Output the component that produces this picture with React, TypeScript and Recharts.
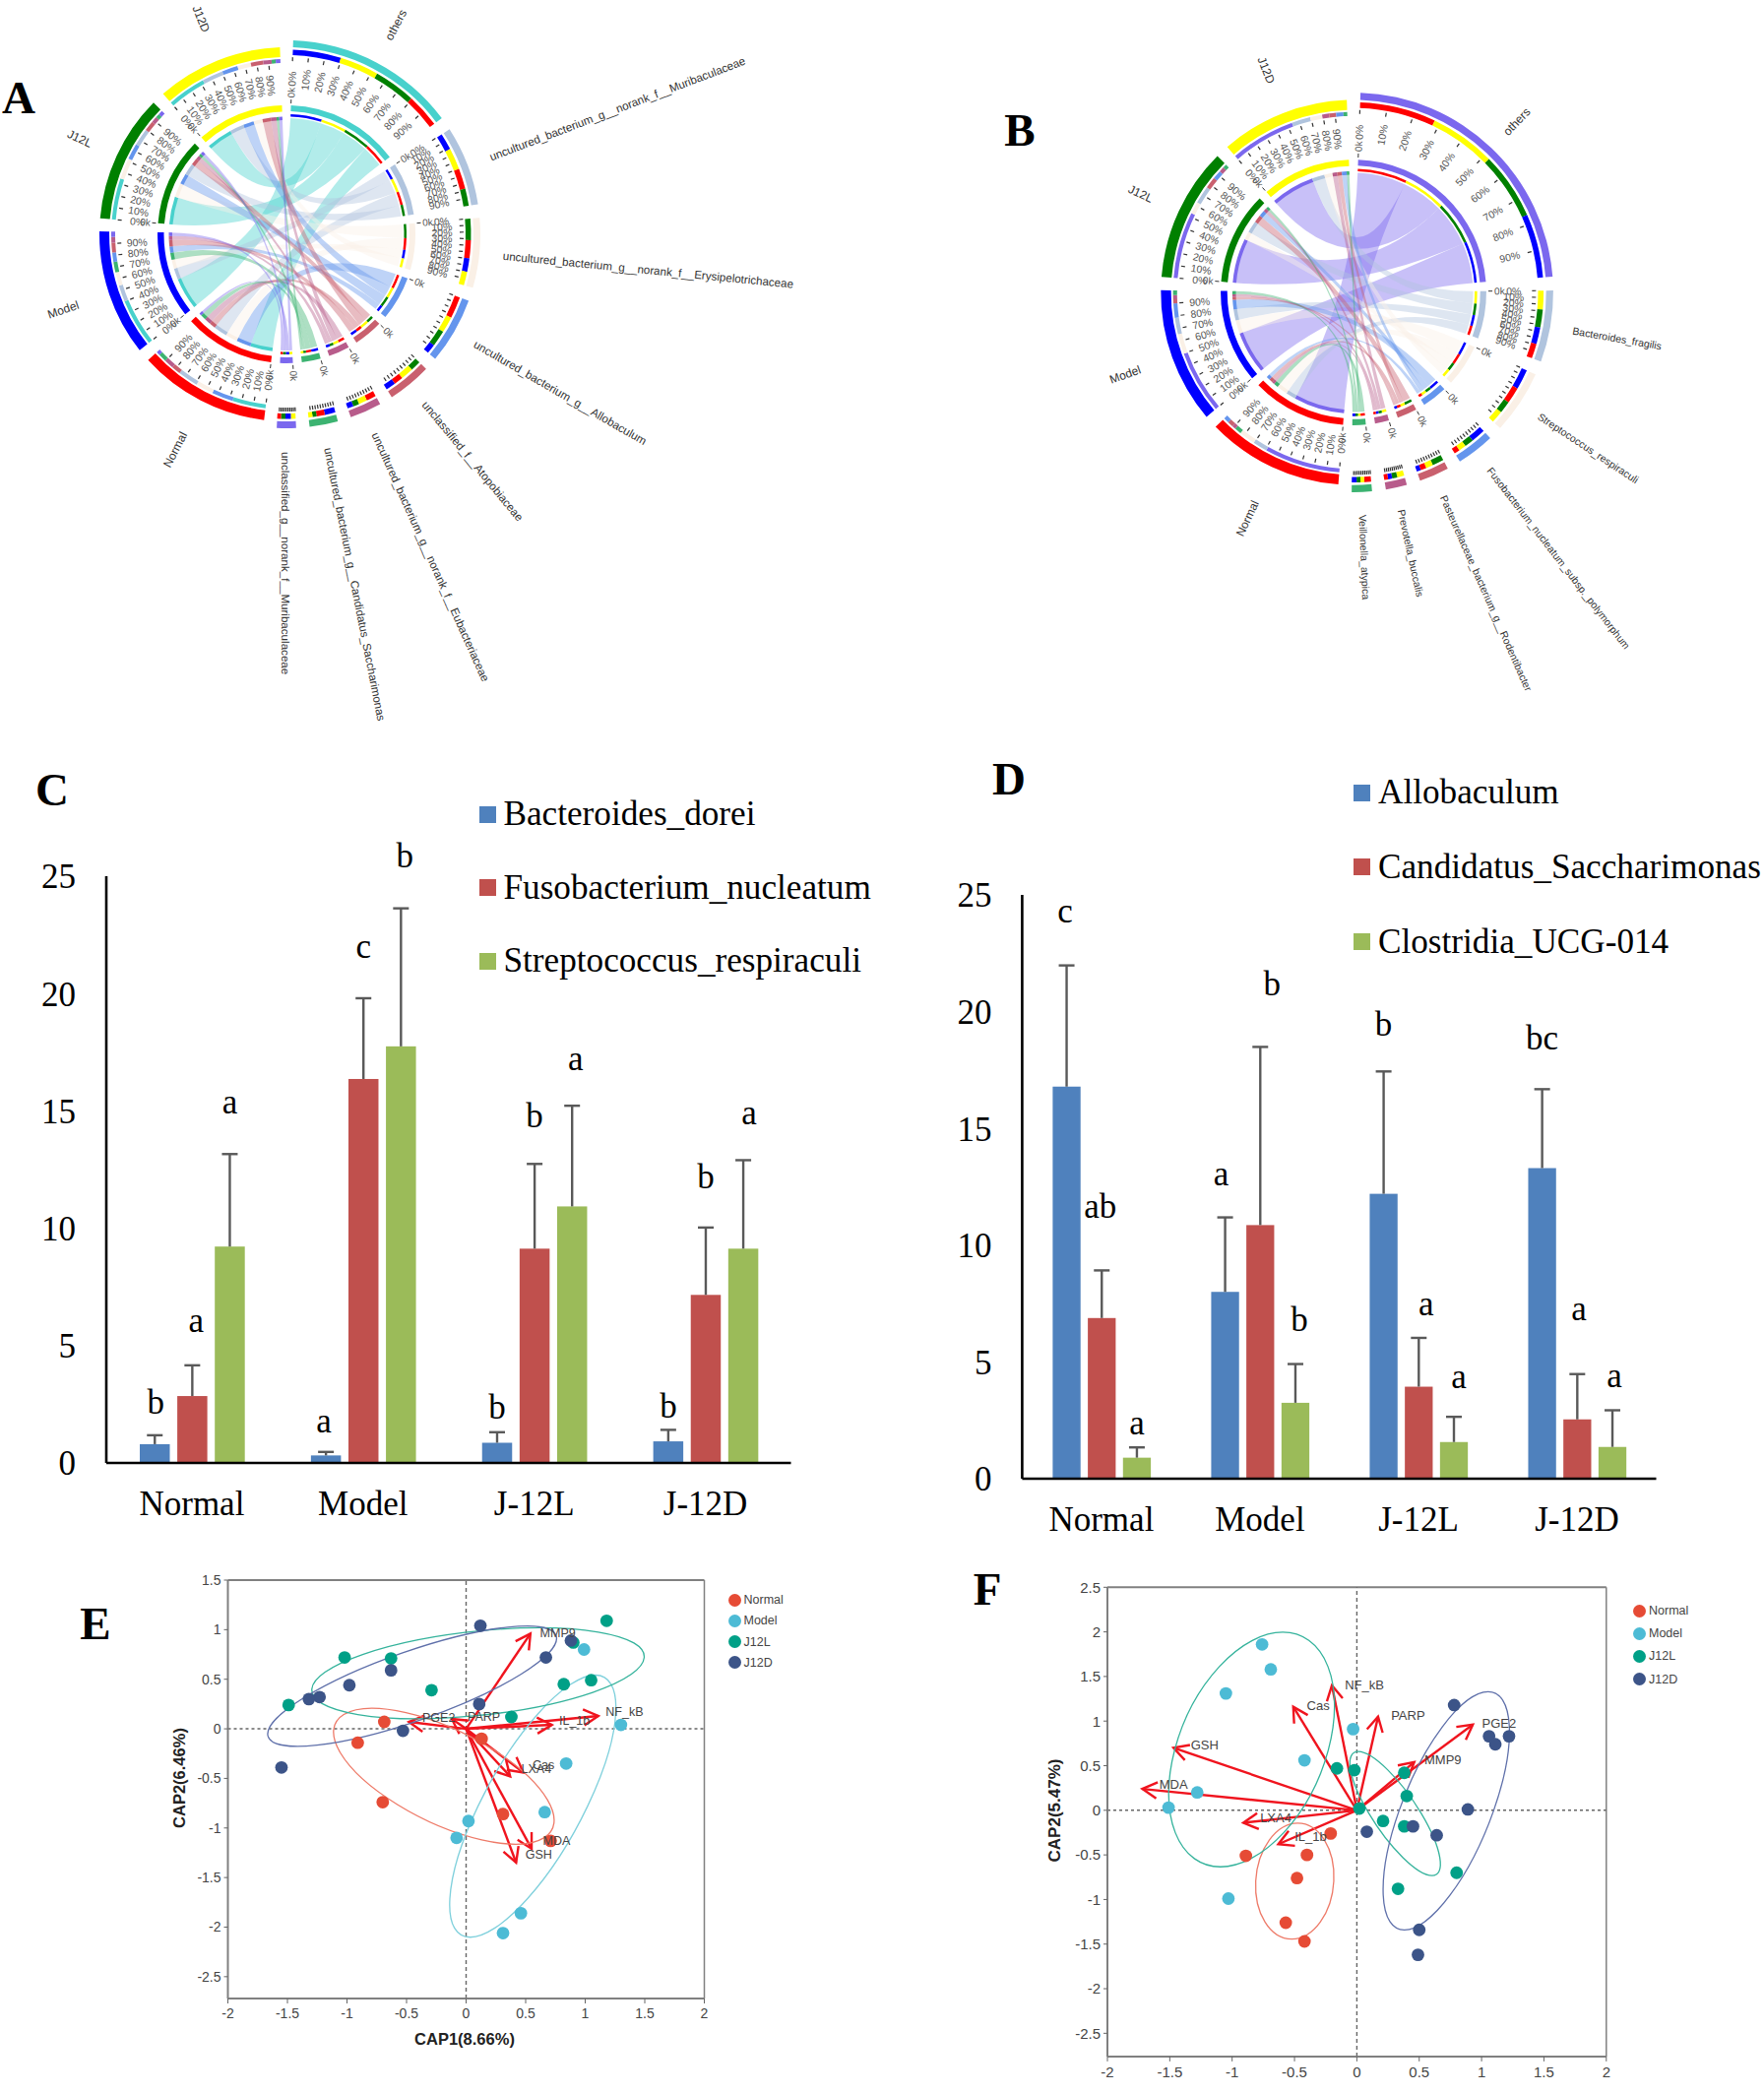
import { PieChart, Pie, BarChart, Bar, XAxis, YAxis, Legend, ScatterChart, Scatter, ReferenceLine } from 'recharts'

const SERIF = '"Liberation Serif", "Times New Roman", serif'
const SANS = '"Liberation Sans", Arial, sans-serif'

// ── Chord panels ───────────────────────────────────────────────
const sampleNames = ['Normal', 'Model', 'J12L', 'J12D']
const sampleColors = ['#ff0000', '#0000ff', '#008000', '#ffff00']

const taxaA = [
  'others',
  'uncultured_bacterium_g__norank_f__Muribaculaceae',
  'uncultured_bacterium_g__norank_f__Erysipelotrichaceae',
  'uncultured_bacterium_g__Allobaculum',
  'unclassified_f__Atopobiaceae',
  'uncultured_bacterium_g__norank_f__Eubacteriaceae',
  'uncultured_bacterium_g__Candidatus_Saccharimonas',
  'unclassified_g__norank_f__Muribaculaceae',
]
const taxaColorsA = ['#48d1cc', '#b0c4de', '#faf0e6', '#6495ed', '#c9606e', '#b85c8b', '#3cb371', '#7b68ee']
// rows: taxa, columns: Normal, Model, J12L, J12D
const flowsA = [
  [10.7, 15.3, 13.3, 12.4],
  [6.5, 5.3, 5.5, 6.8],
  [5.7, 4.3, 6.8, 4.3],
  [6.9, 3.0, 5.1, 5.1],
  [2.9, 3.1, 3.3, 4.0],
  [3.1, 1.9, 1.9, 2.7],
  [2.6, 3.4, 1.3, 1.3],
  [1.2, 1.7, 1.4, 1.5],
]
const taxonOrderA = [[1, 3, 2, 0], [1, 3, 0, 2], [2, 0, 1, 3], [0, 3, 2, 1], [2, 3, 0, 1], [0, 3, 2, 1], [1, 0, 2, 3], [3, 1, 2, 0]]
const sampleOrderA = [[0, 3, 2, 1, 4, 5, 6, 7], [0, 1, 2, 6, 3, 4, 5, 7], [0, 2, 3, 1, 4, 5, 6, 7], [0, 1, 3, 2, 4, 5, 6, 7]]

const taxaB = [
  'others',
  'Bacteroides_fragilis',
  'Streptococcus_respiraculi',
  'Fusobacterium_nucleatum_subsp._polymorphum',
  'Pasteurellaceae_bacterium_g__Rodentibacter',
  'Prevotella_buccalis',
  'Veillonella_atypica',
]
const taxaColorsB = ['#7b68ee', '#b0c4de', '#faf0e6', '#6495ed', '#c9606e', '#b85c8b', '#3cb371']
const flowsB = [
  [23.9, 20.0, 21.0, 20.6],
  [4.6, 5.2, 5.6, 5.9],
  [5.1, 6.3, 3.8, 3.8],
  [1.7, 4.5, 2.8, 2.3],
  [1.8, 1.3, 3.6, 2.2],
  [1.2, 1.3, 1.6, 2.2],
  [2.1, 1.5, 1.2, 1.2],
]
const taxonOrderB = [[0, 3, 2, 1], [3, 2, 1, 0], [1, 0, 2, 3], [1, 2, 3, 0], [2, 3, 0, 1], [3, 2, 1, 0], [0, 3, 2, 1]]
const sampleOrderB = [[0, 1, 2, 6, 5, 4, 3], [0, 2, 1, 3, 4, 5, 6], [0, 2, 1, 4, 3, 5, 6], [0, 1, 2, 5, 4, 3, 6]]

const percentLabels = ['0%', '10%', '20%', '30%', '40%', '50%', '60%', '70%', '80%', '90%']
const sampleLabelRadius = [250, 243, 235, 239]
const GAP = 4

interface Piece { start: number; end: number; t: number; s: number }
interface Sector { name: string; start: number; end: number; color: string; isSample: boolean; pieces: Piece[] }

// taxaShare: part of the circle (without gaps) that goes to the taxa side
function layoutChord(flows: number[][], names: string[], colors: string[], taxonOrder: number[][], sampleOrder: number[][], startDeg: number, taxaShare: number) {
  const total = flows.flat().reduce((a, b) => a + b, 0)
  const free = 360 - GAP * (names.length + 4)
  const taxaUnit = (free * taxaShare) / total
  const sampleUnit = (free * (1 - taxaShare)) / total
  const sectors: Sector[] = []
  let a = startDeg
  flows.forEach((row, t) => {
    const start = a
    const pieces = taxonOrder[t].map((s) => {
      const p = { start: a, end: a + row[s] * taxaUnit, t, s }
      a = p.end
      return p
    })
    sectors.push({ name: names[t], start, end: a, color: colors[t], isSample: false, pieces })
    a += GAP
  })
  sampleNames.forEach((name, s) => {
    const start = a
    const pieces = sampleOrder[s].map((t) => {
      const p = { start: a, end: a + flows[t][s] * sampleUnit, t, s }
      a = p.end
      return p
    })
    sectors.push({ name, start, end: a, color: sampleColors[s], isSample: true, pieces })
    a += GAP
  })
  return sectors
}

function track(sectors: Sector[], samples: boolean, stacked: boolean, colors: string[]) {
  const out: { value: number; fill: string }[] = []
  sectors.forEach((sec) => {
    if (sec.isSample !== samples) out.push({ value: sec.end - sec.start, fill: 'none' })
    else if (!stacked) out.push({ value: sec.end - sec.start, fill: sec.color })
    else sec.pieces.forEach((p) => out.push({ value: p.end - p.start, fill: samples ? colors[p.t] : sampleColors[p.s] }))
    out.push({ value: GAP, fill: 'none' })
  })
  return out
}

function polar(cx: number, cy: number, r: number, deg: number) {
  const rad = (deg * Math.PI) / 180
  return [cx + r * Math.sin(rad), cy - r * Math.cos(rad)]
}

function Ribbons({ sectors, cx, cy, r, colors }: { sectors: Sector[]; cx: number; cy: number; r: number; colors: string[] }) {
  const taxa = sectors.filter((s) => !s.isSample)
  const samples = sectors.filter((s) => s.isSample)
  const paths: { d: string; fill: string }[] = []
  taxa.forEach((sec) => {
    sec.pieces.forEach((p) => {
      const q = samples[p.s].pieces.find((x) => x.t === p.t) as Piece
      const a0 = polar(cx, cy, r, p.start)
      const a1 = polar(cx, cy, r, p.end)
      const b0 = polar(cx, cy, r, q.start)
      const b1 = polar(cx, cy, r, q.end)
      paths.push({
        d: `M${a0} A${r} ${r} 0 0 1 ${a1} Q${cx} ${cy} ${b0} A${r} ${r} 0 0 1 ${b1} Q${cx} ${cy} ${a0} Z`,
        fill: colors[p.t],
      })
    })
  })
  return (
    <g>
      {paths.map((p, i) => (
        <path key={i} d={p.d} fill={p.fill} fillOpacity={0.42} stroke="none" />
      ))}
    </g>
  )
}

function SectorTexts({ sectors, cx, cy, k, labelled, labelR, fontSize }: { sectors: Sector[]; cx: number; cy: number; k: number; labelled: number; labelR: number; fontSize: number }) {
  const out: any[] = []
  let taxonIndex = 0
  sectors.forEach((sec, si) => {
    const span = sec.end - sec.start
    const mid = (sec.start + sec.end) / 2
    const outerR = sec.isSample ? 172 * k : 180 * k
    const showPct = sec.isSample || taxonIndex < labelled
    percentLabels.forEach((lab, i) => {
      const ang = sec.start + (span * i) / 10
      const [x1, y1] = polar(cx, cy, outerR, ang)
      const [x2, y2] = polar(cx, cy, outerR - 4, ang)
      out.push(<line key={`t${si}-${i}`} x1={x1} y1={y1} x2={x2} y2={y2} stroke="#333" strokeWidth={1.2} />)
      if (showPct) {
        const [tx, ty] = polar(cx, cy, sec.isSample ? 152 * k : 158 * k, ang)
        const rot = sec.isSample ? ang + 90 : ang - 90
        out.push(
          <text key={`p${si}-${i}`} x={tx} y={ty} transform={`rotate(${rot} ${tx} ${ty})`} textAnchor="middle" dominantBaseline="central" fontFamily={SANS} fontSize={10.5} fill="#555">
            {lab}
          </text>,
        )
      }
    })
    const [z1, z2] = polar(cx, cy, 137 * k, sec.start)
    const [z3, z4] = polar(cx, cy, 133 * k, sec.start)
    const [zx, zy] = polar(cx, cy, 144 * k, sec.start)
    out.push(<line key={`z${si}`} x1={z1} y1={z2} x2={z3} y2={z4} stroke="#333" strokeWidth={1} />)
    out.push(
      <text key={`k${si}`} x={zx} y={zy} transform={`rotate(${sec.isSample ? sec.start + 90 : sec.start - 90} ${zx} ${zy})`} textAnchor="middle" dominantBaseline="central" fontFamily={SANS} fontSize={10} fill="#555">
        0k
      </text>,
    )
    if (sec.isSample) {
      const idx = sampleNames.indexOf(sec.name)
      const [lx, ly] = polar(cx, cy, sampleLabelRadius[idx] * k * 0.985, mid)
      out.push(
        <text key={`n${si}`} x={lx} y={ly} transform={`rotate(${mid + 90} ${lx} ${ly})`} textAnchor="middle" dominantBaseline="central" fontFamily={SANS} fontSize={12} fill="#333">
          {sec.name}
        </text>,
      )
    } else {
      const first = taxonIndex === 0
      const [lx, ly] = polar(cx, cy, first ? 240 : labelR, mid)
      out.push(
        <text key={`n${si}`} x={lx} y={ly} transform={`rotate(${mid - 90} ${lx} ${ly})`} textAnchor={first ? 'middle' : 'start'} dominantBaseline="central" fontFamily={SANS} fontSize={first ? 12 : fontSize} fill="#333">
          {sec.name}
        </text>,
      )
      taxonIndex += 1
    }
  })
  return <g>{out}</g>
}

function ChordPanel(props: {
  left: number; width: number; height: number; cx: number; cy: number; k: number; start: number; taxaShare: number; labelled: number; labelR: number; fontSize: number
  names: string[]; colors: string[]; flows: number[][]; taxonOrder: number[][]; sampleOrder: number[][]
}) {
  const { left, width, height, cx, cy, k, start, taxaShare, labelled, labelR, fontSize, names, colors, flows, taxonOrder, sampleOrder } = props
  const sectors = layoutChord(flows, names, colors, taxonOrder, sampleOrder, start, taxaShare)
  // inner / outer radius of each ring, outside in
  const rings: [boolean, boolean, number, number][] = [
    [false, false, 190, 197],
    [false, true, 182, 187.5],
    [true, false, 180, 190],
    [true, true, 174, 178],
    [false, false, 125, 131],
    [false, true, 119.5, 122],
    [true, false, 124.5, 131],
    [true, true, 116, 119.5],
  ]
  return (
    <div style={{ position: 'absolute', left, top: 0 }}>
      <PieChart width={width} height={height} margin={{ top: 0, right: 0, bottom: 0, left: 0 }}>
        <Ribbons sectors={sectors} cx={cx} cy={cy} r={118 * k} colors={colors} />
        {rings.map(([samples, stacked, inner, outer], i) => (
          <Pie
            key={i}
            data={track(sectors, samples, stacked, colors)}
            dataKey="value"
            cx={cx}
            cy={cy}
            innerRadius={inner * k}
            outerRadius={outer * k}
            startAngle={90 - start}
            endAngle={90 - start - 360}
            stroke="none"
            isAnimationActive={false}
          />
        ))}
        <SectorTexts sectors={sectors} cx={cx} cy={cy} k={k} labelled={labelled} labelR={labelR} fontSize={fontSize} />
      </PieChart>
    </div>
  )
}

// ── Bar panels ─────────────────────────────────────────────────
const groups = ['Normal', 'Model', 'J-12L', 'J-12D']
const barColors = ['#4f81bd', '#c0504d', '#9bbb59']
const axisTicks = [0, 5, 10, 15, 20, 25]

const seriesNamesC = ['Bacteroides_dorei', 'Fusobacterium_nucleatum', 'Streptococcus_respiraculi']
const valuesC = [
  [0.8, 0.32, 0.86, 0.92],
  [2.85, 16.36, 9.13, 7.16],
  [9.22, 17.75, 10.93, 9.13],
]
const errTopC = [
  [1.18, 0.47, 1.31, 1.41],
  [4.16, 19.8, 12.74, 10.03],
  [13.16, 23.63, 15.22, 12.9],
]
const lettersC = [
  ['b', 'a', 'b', 'b'],
  ['a', 'c', 'b', 'b'],
  ['a', 'b', 'a', 'a'],
]
const letterYC = [
  [2.57, 1.78, 2.36, 2.42],
  [6.07, 22.0, 14.8, 12.2],
  [15.39, 25.84, 17.2, 14.9],
]
const letterDxC = [
  [1, -2, 0, 0],
  [4, 0, 0, 0],
  [0, 4, 3.5, 6],
]

const seriesNamesD = ['Allobaculum', 'Candidatus_Saccharimonas', 'Clostridia_UCG-014']
const valuesD = [
  [16.79, 8.0, 12.2, 13.3],
  [6.88, 10.86, 3.94, 2.54],
  [0.9, 3.25, 1.57, 1.36],
]
const errTopD = [
  [21.98, 11.19, 17.44, 16.68],
  [8.92, 18.49, 6.03, 4.48],
  [1.34, 4.91, 2.65, 2.93],
]
const lettersD = [
  ['c', 'a', 'b', 'bc'],
  ['ab', 'b', 'a', 'a'],
  ['a', 'b', 'a', 'a'],
]
const letterYD = [
  [24.3, 13.04, 19.46, 18.86],
  [11.64, 21.2, 7.5, 7.28],
  [2.37, 6.79, 4.38, 4.42],
]
const letterDxD = [
  [-1.6, -4, 0, 0],
  [-1.6, 12, 7.5, 1.6],
  [0, 4, 5, 2],
]

// bar + upper whisker + significance letter, all from the bar's own scale
function barShape(values: number[], errTop: number[], letters: string[], letterY: number[], letterDx: number[], capWidth: number) {
  return (p: any) => {
    const i = p.index
    const perUnit = p.height / values[i]
    const base = p.y + p.height
    const mid = p.x + p.width / 2
    const top = base - errTop[i] * perUnit
    return (
      <g>
        <rect x={p.x} y={p.y} width={p.width} height={p.height} fill={p.fill} />
        <line x1={mid} y1={p.y} x2={mid} y2={top} stroke="#595959" strokeWidth={2.4} />
        <line x1={mid - capWidth} y1={top} x2={mid + capWidth} y2={top} stroke="#595959" strokeWidth={2.4} />
        <text x={mid + letterDx[i]} y={base - letterY[i] * perUnit} textAnchor="middle" dominantBaseline="central" fontFamily={SERIF} fontSize={35} fill="#000">
          {letters[i]}
        </text>
      </g>
    )
  }
}

function BarLegend({ names, rowStep }: { names: string[]; rowStep: number }) {
  return (
    <div style={{ position: 'relative', whiteSpace: 'nowrap' }}>
      {names.map((n, i) => (
        <div key={n} style={{ position: 'absolute', top: i * rowStep, left: 0, height: 40, display: 'flex', alignItems: 'center', fontFamily: SERIF, fontSize: 35.2, color: '#000' }}>
          <span style={{ display: 'inline-block', width: 17, height: 17, background: barColors[i], marginRight: 8 }} />
          {n}
        </div>
      ))}
    </div>
  )
}

function BarPanel(props: {
  left: number; top: number; width: number; height: number; marginTop: number; axisWidth: number; axisHeight: number; right: number
  barSize: number; barGap: number; capWidth: number; names: string[]; values: number[][]; errTop: number[][]; letters: string[][]; letterY: number[][]; letterDx: number[][]
  legendLeft: number; legendTop: number; rowStep: number
}) {
  const { left, top, width, height, marginTop, axisWidth, axisHeight, right, barSize, barGap, capWidth, names, values, errTop, letters, letterY, letterDx, legendLeft, legendTop, rowStep } = props
  const data = groups.map((g, i) => ({ group: g, s0: values[0][i], s1: values[1][i], s2: values[2][i] }))
  const axisLine = { stroke: '#000', strokeWidth: 2.6 }
  const tick = { fill: '#000', fontFamily: SERIF, fontSize: 35 }
  return (
    <div style={{ position: 'absolute', left, top }}>
      <BarChart width={width} height={height} data={data} barSize={barSize} barGap={barGap} margin={{ top: marginTop, right, bottom: 0, left: 0 }}>
        <XAxis dataKey="group" axisLine={axisLine} tickLine={false} tickSize={0} tickMargin={28} height={axisHeight} tick={tick} interval={0} />
        <YAxis domain={[0, 25]} ticks={axisTicks} axisLine={axisLine} tickLine={false} tickSize={0} tickMargin={31} width={axisWidth} tick={tick} interval={0} />
        <Legend
          layout="vertical"
          align="center"
          verticalAlign="middle"
          wrapperStyle={{ left: legendLeft, top: legendTop, width: 440, height: 200 }}
          content={() => <BarLegend names={names} rowStep={rowStep} />}
        />
        {[0, 1, 2].map((s) => (
          <Bar key={s} dataKey={`s${s}`} fill={barColors[s]} isAnimationActive={false} shape={barShape(values[s], errTop[s], letters[s], letterY[s], letterDx[s], capWidth)} />
        ))}
      </BarChart>
    </div>
  )
}

// ── Ordination panels ──────────────────────────────────────────
const groupNames = ['Normal', 'Model', 'J12L', 'J12D']
const dotColors = ['#e64b35', '#4dbbd5', '#00a087', '#3c5488']
const ellipseColors = ['#ee7a68', '#7fd0dc', '#35b39c', '#5f70aa']
const xTicks = [-2, -1.5, -1, -0.5, 0, 0.5, 1, 1.5, 2]

const pointsE = [
  [[-0.687, 0.07], [-0.91, -0.14], [-0.7, -0.74], [0.13, -0.1], [0.31, -0.86], [0.71, -1.13]],
  [[1.3, 0.04], [0.99, 0.8], [0.84, -0.35], [0.66, -0.84], [0.02, -0.93], [-0.08, -1.1], [0.46, -1.86], [0.31, -2.06]],
  [[1.18, 1.09], [0.9, 0.87], [1.05, 0.49], [0.82, 0.45], [0.38, 0.12], [-0.29, 0.39], [-0.63, 0.71], [-1.02, 0.72], [-1.49, 0.24]],
  [[0.12, 1.04], [0.88, 0.89], [0.67, 0.72], [0.11, 0.25], [-0.53, -0.02], [-0.63, 0.59], [-0.98, 0.44], [-1.23, 0.32], [-1.32, 0.3], [-1.55, -0.39]],
]
// centre plus two conjugate semi-axes, in data units
const ellipsesE = [
  [-0.187, -0.478, 0.84, -0.622, 0.39, 0.286],
  [0.56, -0.78, 0.525, 1.322, 0.46, 0],
  [0.1, 0.56, 1.395, 0.158, 0.033, 0.43],
  [-0.453, 0.43, 1.21, 0.505, -0.08, 0.336],
]
const arrowNamesE = ['MMP9', 'NF_kB', 'IL_1b', 'PARP', 'PGE2', 'Cas', 'LXA4', 'MDA', 'GSH']
const arrowTipsE = [[0.54, 0.96], [1.11, 0.13], [0.72, 0.04], [-0.12, 0.1], [-0.48, 0.07], [0.48, -0.44], [0.37, -0.48], [0.55, -1.21], [0.42, -1.35]]
const arrowLabelsE = [[0.77, 0.96], [1.33, 0.17], [0.91, 0.08], [0.15, 0.12], [-0.23, 0.11], [0.65, -0.37], [0.59, -0.41], [0.76, -1.13], [0.61, -1.27]]
const yTicksE = [-2.5, -2, -1.5, -1, -0.5, 0, 0.5, 1, 1.5]

const pointsF = [
  [[-0.21, -0.26], [-0.4, -0.5], [-0.89, -0.51], [-0.48, -0.76], [-0.57, -1.26], [-0.42, -1.47]],
  [[-0.76, 1.86], [-0.69, 1.58], [-1.05, 1.31], [-0.03, 0.91], [-0.42, 0.56], [-1.28, 0.2], [-1.51, 0.03], [-1.03, -0.99]],
  [[-0.16, 0.47], [-0.02, 0.45], [0.38, 0.42], [0.4, 0.16], [0.02, 0.02], [0.21, -0.12], [0.38, -0.18], [0.8, -0.7], [0.33, -0.88]],
  [[0.78, 1.18], [1.06, 0.83], [1.22, 0.83], [1.11, 0.74], [0.89, 0.01], [0.45, -0.18], [0.64, -0.28], [0.08, -0.24], [0.5, -1.34], [0.49, -1.62]],
]
const ellipsesF = [
  [-0.498, -0.794, 0.024, 0.65, 0.313, 0],
  [-0.844, 0.681, 0.25, 1.315, 0.616, 0],
  [0.307, -0.037, -0.296, 0.695, 0.21, 0],
  [0.717, -0.006, 0.336, 1.336, 0.379, 0],
]
const ellipseStrokeF = ['#ee7a68', '#35b39c', '#35b39c', '#5f70aa']
const arrowNamesF = ['GSH', 'MDA', 'LXA4', 'IL_1b', 'Cas', 'NF_kB', 'PARP', 'PGE2', 'MMP9']
const arrowTipsF = [[-1.47, 0.7], [-1.72, 0.24], [-0.91, -0.14], [-0.63, -0.38], [-0.51, 1.16], [-0.2, 1.4], [0.17, 1.05], [0.93, 0.96], [0.46, 0.54]]
const arrowLabelsF = [[-1.22, 0.73], [-1.47, 0.29], [-0.65, -0.09], [-0.37, -0.29], [-0.31, 1.17], [0.06, 1.4], [0.41, 1.06], [1.14, 0.98], [0.69, 0.57]]
const yTicksF = [-2.5, -2, -1.5, -1, -0.5, 0, 0.5, 1, 1.5, 2, 2.5]

function arrowShape(p: any) {
  const { x1, y1, x2, y2 } = p
  const ang = Math.atan2(y2 - y1, x2 - x1)
  const head = (d: number) => [x2 - 17 * Math.cos(ang + d), y2 - 17 * Math.sin(ang + d)]
  const [ax, ay] = head(0.5)
  const [bx, by] = head(-0.5)
  return (
    <g>
      <line x1={x1} y1={y1} x2={x2} y2={y2} stroke="#f0141e" strokeWidth={2.4} />
      <path d={`M${ax} ${ay} L${x2} ${y2} L${bx} ${by}`} fill="none" stroke="#f0141e" strokeWidth={2.4} />
    </g>
  )
}

function CapLegend({ step, gapLeft }: { step: number; gapLeft: number }) {
  return (
    <div style={{ position: 'relative', whiteSpace: 'nowrap' }}>
      {groupNames.map((n, i) => (
        <div key={n} style={{ position: 'absolute', top: i * step, left: 0, height: 16, display: 'flex', alignItems: 'center', fontFamily: SANS, fontSize: 12.5, color: '#444' }}>
          <span style={{ display: 'inline-block', width: 13, height: 13, borderRadius: 7, background: dotColors[i], marginRight: gapLeft }} />
          {n}
        </div>
      ))}
    </div>
  )
}

function OrdinationPanel(props: {
  left: number; top: number; width: number; height: number; marginTop: number; axisWidth: number; axisHeight: number; right: number
  yMin: number; yMax: number; yTicks: number[]; points: number[][][]; ellipses: number[][]; ellipseStroke: string[]
  names: string[]; tips: number[][]; labels: number[][]; legendLeft: number; legendTop: number; legendStep: number
  yTitle: string; yTitleX: number; yTitleY: number; xTitle: string; xTitleX: number; xTitleY: number; titleSize: number; tickSize: number; labelSize: number
}) {
  const { left, top, width, height, marginTop, axisWidth, axisHeight, right, yMin, yMax, yTicks, points, ellipses, ellipseStroke, names, tips, labels, legendLeft, legendTop, legendStep, yTitle, yTitleX, yTitleY, xTitle, xTitleX, xTitleY, titleSize, tickSize, labelSize } = props
  const plotW = width - axisWidth - right
  const plotH = height - marginTop - axisHeight
  const pxX = plotW / 4
  const pxY = plotH / (yMax - yMin)
  const tick = { fill: '#444', fontFamily: SANS, fontSize: tickSize }
  const axisLine = { stroke: '#808080', strokeWidth: 2 }
  const ellipseShape = (stroke: string) => (p: any) => {
    const e = p.payload
    return (
      <circle
        r={1}
        fill="none"
        stroke={stroke}
        strokeWidth={1.3}
        vectorEffect="non-scaling-stroke"
        transform={`matrix(${e.ax * pxX} ${-e.ay * pxY} ${e.bx * pxX} ${-e.by * pxY} ${p.cx} ${p.cy})`}
      />
    )
  }
  const dotShape = (fill: string) => (p: any) => <circle cx={p.cx} cy={p.cy} r={6.4} fill={fill} />
  const labelShape = (p: any) => (
    <text x={p.cx} y={p.cy} textAnchor="middle" dominantBaseline="central" fontFamily={SANS} fontSize={labelSize} fill="#444">
      {p.payload.name}
    </text>
  )
  return (
    <div style={{ position: 'absolute', left, top }}>
      <ScatterChart width={width} height={height} margin={{ top: marginTop, right, bottom: 0, left: 0 }}>
        <XAxis type="number" dataKey="x" domain={[-2, 2]} ticks={xTicks} axisLine={axisLine} tickLine={{ stroke: '#666' }} tickSize={5} tickMargin={5} height={axisHeight} tick={tick} interval={0} allowDataOverflow />
        <YAxis type="number" dataKey="y" domain={[yMin, yMax]} ticks={yTicks} axisLine={axisLine} tickLine={{ stroke: '#666' }} tickSize={4} tickMargin={3} width={axisWidth} tick={tick} interval={0} allowDataOverflow />
        <ReferenceLine y={yMax} stroke="#808080" strokeWidth={2} />
        <ReferenceLine x={2} stroke="#808080" strokeWidth={1.5} />
        <ReferenceLine y={0} stroke="#666" strokeWidth={1.6} strokeDasharray="3 3" />
        <ReferenceLine x={0} stroke="#666" strokeWidth={1.4} strokeDasharray="4 3" />
        <Legend
          layout="vertical"
          align="center"
          verticalAlign="middle"
          wrapperStyle={{ left: legendLeft, top: legendTop, width: 90, height: 100 }}
          content={() => <CapLegend step={legendStep} gapLeft={3} />}
        />
        {ellipses.map((e, i) => (
          <Scatter
            key={`e${i}`}
            data={[{ x: e[0], y: e[1], ax: e[2], ay: e[3], bx: e[4], by: e[5] }]}
            isAnimationActive={false}
            shape={ellipseShape(ellipseStroke[i])}
          />
        ))}
        {tips.map((t, i) => (
          <ReferenceLine key={`a${i}`} segment={[{ x: 0, y: 0 }, { x: t[0], y: t[1] }]} shape={arrowShape} />
        ))}
        {points.map((pts, i) => (
          <Scatter key={`p${i}`} data={pts.map((q) => ({ x: q[0], y: q[1] }))} isAnimationActive={false} shape={dotShape(dotColors[i])} />
        ))}
        <Scatter data={labels.map((q, i) => ({ x: q[0], y: q[1], name: names[i] }))} isAnimationActive={false} shape={labelShape} />
        <text x={yTitleX} y={yTitleY} transform={`rotate(-90 ${yTitleX} ${yTitleY})`} textAnchor="middle" dominantBaseline="central" fontFamily={SANS} fontWeight="bold" fontSize={titleSize} fill="#222">
          {yTitle}
        </text>
        <text x={xTitleX} y={xTitleY} textAnchor="middle" dominantBaseline="central" fontFamily={SANS} fontWeight="bold" fontSize={titleSize} fill="#222">
          {xTitle}
        </text>
      </ScatterChart>
    </div>
  )
}

const panelLetters = [
  ['A', 19, 99],
  ['B', 1036, 132],
  ['C', 53, 802],
  ['D', 1025, 791],
  ['E', 97, 1649],
  ['F', 1003, 1614],
] as const

export default function App() {
  return (
    <div style={{ position: 'absolute', left: 0, top: 0, width: 1792, height: 2127, overflow: 'hidden', background: '#fff' }}>
      <ChordPanel left={0} width={840} height={760} cx={291} cy={238} k={1} start={2} taxaShare={0.49} labelled={3} labelR={221} fontSize={11.6} names={taxaA} colors={taxaColorsA} flows={flowsA} taxonOrder={taxonOrderA} sampleOrder={sampleOrderA} />
      <ChordPanel left={940} width={852} height={760} cx={435} cy={297} k={1.03} start={2} taxaShare={0.489} labelled={2} labelR={226} fontSize={10.5} names={taxaB} colors={taxaColorsB} flows={flowsB} taxonOrder={taxonOrderB} sampleOrder={sampleOrderB} />

      <BarPanel left={0} top={770} width={900} height={800} marginTop={120} axisWidth={108} axisHeight={84} right={96.5} barSize={30.5} barGap={7.6} capWidth={8} names={seriesNamesC} values={valuesC} errTop={errTopC} letters={lettersC} letterY={letterYC} letterDx={letterDxC} legendLeft={486.5} legendTop={37} rowStep={74.6} />
      <BarPanel left={960} top={760} width={832} height={820} marginTop={149} axisWidth={78.4} axisHeight={78} right={109.5} barSize={28.3} barGap={7.4} capWidth={8} names={seriesNamesD} values={valuesD} errTop={errTopD} letters={lettersD} letterY={letterYD} letterDx={letterDxD} legendLeft={415} legendTop={25} rowStep={75.9} />

      <OrdinationPanel left={100} top={1580} width={720} height={510} marginTop={25} axisWidth={131.5} axisHeight={60} right={104.5} yMin={-2.72} yMax={1.5} yTicks={yTicksE} points={pointsE} ellipses={ellipsesE} ellipseStroke={ellipseColors} names={arrowNamesE} tips={arrowTipsE} labels={arrowLabelsE} legendLeft={639.5} legendTop={37} legendStep={21.3} yTitle="CAP2(6.46%)" yTitleX={82} yTitleY={226} xTitle="CAP1(8.66%)" xTitleX={372} xTitleY={491} titleSize={16.5} tickSize={14} labelSize={12.5} />
      <OrdinationPanel left={1000} top={1590} width={792} height={537} marginTop={22.3} axisWidth={125} axisHeight={38.1} right={160.2} yMin={-2.76} yMax={2.5} yTicks={yTicksF} points={pointsF} ellipses={ellipsesF} ellipseStroke={ellipseStrokeF} names={arrowNamesF} tips={arrowTipsF} labels={arrowLabelsF} legendLeft={659} legendTop={38} legendStep={23.2} yTitle="CAP2(5.47%)" yTitleX={71} yTitleY={249} xTitle="" xTitleX={380} xTitleY={540} titleSize={17} tickSize={15} labelSize={13} />

      {panelLetters.map(([t, x, y]) => (
        <div key={t} style={{ position: 'absolute', left: x - 30, top: y - 30, width: 60, height: 60, lineHeight: '60px', textAlign: 'center', fontFamily: SERIF, fontWeight: 'bold', fontSize: 47, color: '#000' }}>
          {t}
        </div>
      ))}
    </div>
  )
}
